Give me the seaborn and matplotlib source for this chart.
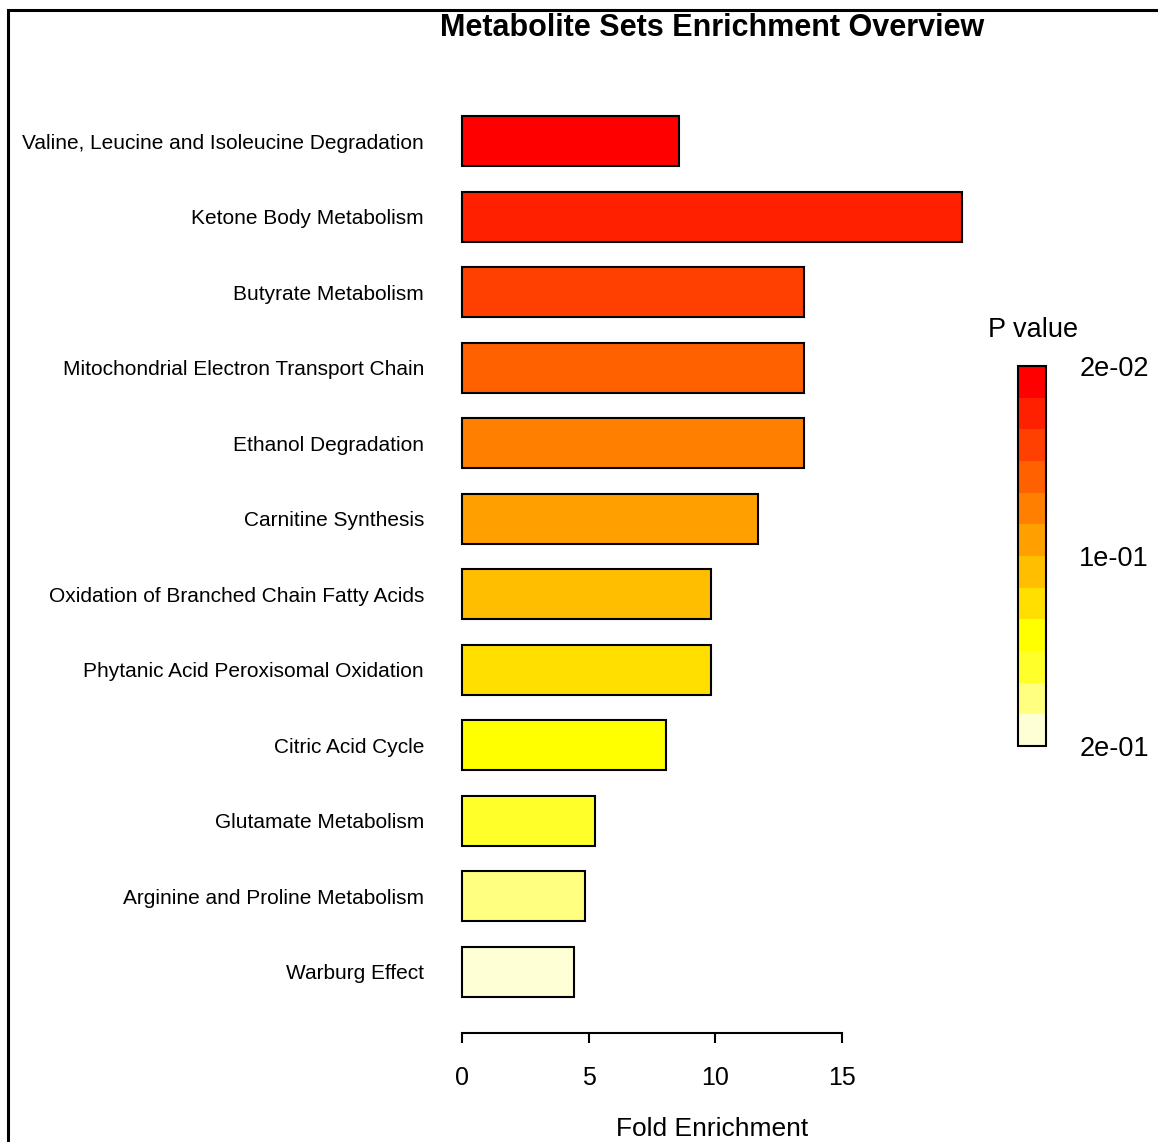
import numpy as np
import pandas as pd
import seaborn as sns
import matplotlib.pyplot as plt
from matplotlib.colors import ListedColormap, BoundaryNorm
from matplotlib.colorbar import ColorbarBase
from matplotlib.patches import Rectangle

# Dados (de cima para baixo)
pathways = [
    'Valine, Leucine and Isoleucine Degradation',
    'Ketone Body Metabolism',
    'Butyrate Metabolism',
    'Mitochondrial Electron Transport Chain',
    'Ethanol Degradation',
    'Carnitine Synthesis',
    'Oxidation of Branched Chain Fatty Acids',
    'Phytanic Acid Peroxisomal Oxidation',
    'Citric Acid Cycle',
    'Glutamate Metabolism',
    'Arginine and Proline Metabolism',
    'Warburg Effect',
]
fold_enrichment = [8.57, 19.74, 13.5, 13.5, 13.5, 11.69, 9.83, 9.83, 8.05, 5.25, 4.86, 4.42]
p_values = [0.02, 0.03, 0.045, 0.06, 0.07, 0.085, 0.10, 0.12, 0.14, 0.16, 0.18, 0.20]

# heat.colors(12) do R
heat = ['#FF0000', '#FF2000', '#FF4000', '#FF6000', '#FF8000', '#FF9F00',
        '#FFBF00', '#FFDF00', '#FFFF00', '#FFFF2A', '#FFFF80', '#FFFFD5']

df = pd.DataFrame({'Pathway': pathways, 'Fold Enrichment': fold_enrichment, 'P': p_values})
rank = df['P'].rank(method='first').astype(int) - 1
palette = {pw: heat[r] for pw, r in zip(df['Pathway'], rank)}

sns.set_style('white')
plt.rcParams['font.family'] = ['Liberation Sans', 'DejaVu Sans']
plt.rcParams['text.color'] = 'black'
plt.rcParams['axes.labelcolor'] = 'black'
plt.rcParams['xtick.color'] = 'black'
plt.rcParams['ytick.color'] = 'black'

fig = plt.figure(figsize=(11.58, 11.42), dpi=100)
ax = fig.add_axes([442 / 1158, 109 / 1142, 540 / 1158, 953 / 1142])

sns.barplot(
    data=df,
    y='Pathway',
    x='Fold Enrichment',
    hue='Pathway',
    palette=palette,
    saturation=1,
    order=pathways,
    orient='h',
    width=0.66,
    edgecolor='black',
    linewidth=1.5,
    legend=False,
    ax=ax,
)
ax.set_xlim(-0.79, 20.53)
ax.set_ylim(11.81, -0.81)
ax.set_ylabel('')
ax.set_xticks([0, 5, 10, 15])
ax.set_xlabel('Fold Enrichment', fontsize=19, labelpad=20)
ax.tick_params(axis='x', length=7.5, width=1.5, direction='out', pad=16, labelsize=18, bottom=True)
ax.tick_params(axis='y', length=0, pad=13, labelsize=15)
for s in ['left', 'top', 'right']:
    ax.spines[s].set_visible(False)
ax.spines['bottom'].set_bounds(0, 15)
ax.spines['bottom'].set_linewidth(1.5)
ax.spines['bottom'].set_color('black')

fig.text(712 / 1158, 1 - 28 / 1142, 'Metabolite Sets Enrichment Overview',
         ha='center', va='center', fontsize=22, fontweight='bold')

# Legenda de cores (P value)
cax = fig.add_axes([1018 / 1158, (1142 - 746) / 1142, 28 / 1158, 380 / 1142])
cmap = ListedColormap(heat[::-1])
norm = BoundaryNorm(np.arange(13), 12)
cb = ColorbarBase(cax, cmap=cmap, norm=norm, orientation='vertical')
ps = sorted(p_values)
cb.set_ticks([12, 6, 0])
cb.set_ticklabels(['%.0e' % ps[0], '%.0e' % ps[len(ps) // 2], '%.0e' % ps[-1]])
cax.minorticks_off()
cax.tick_params(which='both', length=0, pad=24, labelsize=19.5)
cb.outline.set_linewidth(1.5)
cb.outline.set_edgecolor('black')
fig.text(1033 / 1158, 1 - 330 / 1142, 'P value', ha='center', va='center', fontsize=19.5)

# Moldura
fig.patches.append(Rectangle((8 / 1158, -0.1), 1.2, 1 - 10 / 1142 + 0.1,
                             transform=fig.transFigure, fill=False,
                             edgecolor='black', linewidth=2.2))

plt.savefig('out.png', dpi=100)
